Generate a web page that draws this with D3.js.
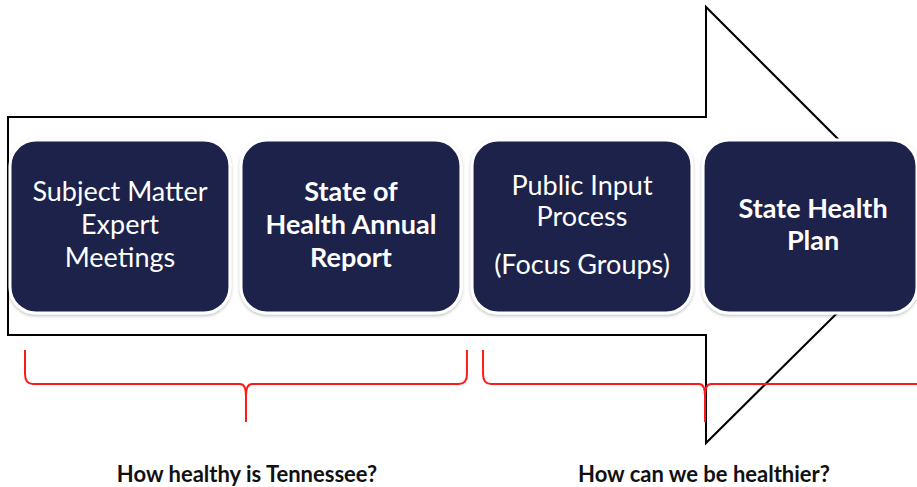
<!DOCTYPE html>
<html><head><meta charset="utf-8">
<script src="https://cdn.jsdelivr.net/npm/d3@7"></script>
<style>html,body{margin:0;padding:0;background:#fff;overflow:hidden}</style>
</head><body>
<svg id="c" width="917" height="487"></svg>
<script>
// ---- data ----
const steps = ["Subject Matter Expert Meetings", "State of Health Annual Report", "Public Input Process (Focus Groups)", "State Health Plan"];
const stepLines = [
  ["Subject Matter", "Expert", "Meetings"],
  ["State of", "Health Annual", "Report"],
  ["Public Input", "Process", "(Focus Groups)"],
  ["State Health", "Plan"]
];
const stepBold = [false, true, false, true];
const groups = ["How healthy is Tennessee?", "How can we be healthier?"];
const groupSpans = [[0, 1], [2, 3]];

// ---- layout ----
const W = 917, H = 487;
const svg = d3.select("#c");
const navy = "#1b2249";

const x = d3.scaleBand().domain(steps).range([10, 923]).paddingInner(0.048).paddingOuter(0);
const y = d3.scaleLinear().domain([0, 1]).range([140, 313]);

// Arrow outline
const shaftTop = 117, shaftBot = 335, headTop = 7, headBot = 443, headX = 706;
const cy = (shaftTop + shaftBot) / 2;
const tipX = headX + (cy - headTop);
const arrow = d3.path();
arrow.moveTo(8, shaftTop); arrow.lineTo(headX, shaftTop); arrow.lineTo(headX, headTop);
arrow.lineTo(tipX, cy); arrow.lineTo(headX, headBot); arrow.lineTo(headX, shaftBot);
arrow.lineTo(8, shaftBot); arrow.closePath();
svg.append("path").attr("d", arrow.toString()).attr("fill", "none")
  .attr("stroke", "#000").attr("stroke-width", 2);

// shadow filter
const defs = svg.append("defs");
const f = defs.append("filter").attr("id", "sh").attr("x", "-10%").attr("y", "-10%").attr("width", "120%").attr("height", "125%");
f.append("feDropShadow").attr("dx", 0).attr("dy", 1.5).attr("stdDeviation", 1.5).attr("flood-color", "#000").attr("flood-opacity", 0.25);

// boxes
const g = svg.selectAll("g.step").data(steps).join("g").attr("class", "step");
g.append("rect")
  .attr("x", d => x(d)).attr("y", y(0))
  .attr("width", d => Math.min(x.bandwidth(), 917 - x(d))).attr("height", y(1) - y(0))
  .attr("rx", 26).attr("ry", 26)
  .attr("fill", navy).attr("stroke", "#fff").attr("stroke-width", 3)
  .attr("filter", "url(#sh)");

// baseline offsets of each line relative to box top
const lineY = [
  [61, 94, 127],
  [61, 94, 127],
  [55, 86, 134],
  [78, 110]
];
g.each(function(d, i) {
  const cx = x(d) + x.bandwidth() / 2;
  const t = d3.select(this).append("text")
    .attr("text-anchor", "middle").attr("fill", "#fff")
    .attr("font-family", "Lato, 'Open Sans', sans-serif")
    .attr("font-size", 27)
    .attr("font-weight", stepBold[i] ? "bold" : "normal");
  stepLines[i].forEach((l, k) => {
    t.append("tspan").attr("x", cx).attr("y", y(0) + lineY[i][k]).text(l);
  });
});

// braces
const bTop = 350, bMid = 384, bBot = 422;
groupSpans.forEach((s, i) => {
  const x0 = x(steps[s[0]]) + (i === 0 ? 15 : 11);
  const x1 = x(steps[s[1]]) + x.bandwidth() + 6;
  const cx = i === 0 ? (x0 + x1) / 2 : headX - 1;
  const p = d3.path();
  p.moveTo(x0, bTop);
  p.lineTo(x0, bMid - 10);
  p.quadraticCurveTo(x0, bMid, x0 + 8, bMid);
  p.lineTo(cx - 6, bMid);
  p.quadraticCurveTo(cx, bMid, cx, bMid + 12);
  p.lineTo(cx, bBot);
  p.moveTo(cx, bMid + 12);
  p.quadraticCurveTo(cx, bMid, cx + 6, bMid);
  if (i === 0) {
    p.lineTo(x1 - 8, bMid);
    p.quadraticCurveTo(x1, bMid, x1, bMid - 10);
    p.lineTo(x1, bTop);
  } else {
    p.lineTo(W + 20, bMid);
  }
  svg.append("path").attr("d", p.toString()).attr("fill", "none")
    .attr("stroke", "#ff1a1a").attr("stroke-width", 2);
});

// group labels
svg.selectAll("text.grp").data(groups).join("text").attr("class", "grp")
  .attr("x", (d, i) => i === 0 ? 247 : 704).attr("y", 482)
  .attr("text-anchor", "middle").attr("font-family", "Lato, 'Open Sans', sans-serif")
  .attr("font-weight", "bold").attr("font-size", 22).attr("fill", "#111")
  .text(d => d);
</script>
</body></html>
